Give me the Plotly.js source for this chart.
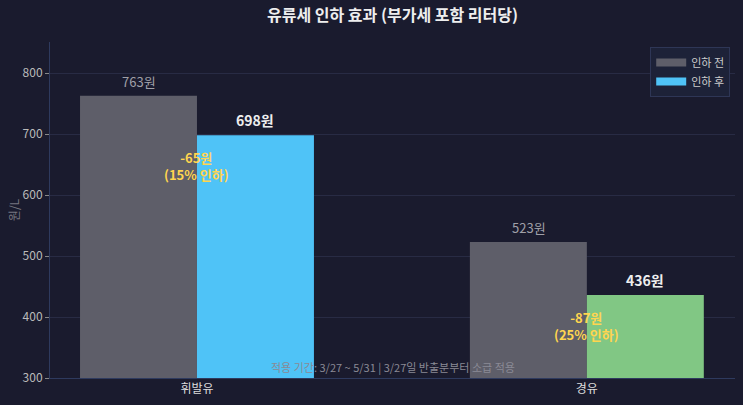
<!DOCTYPE html>
<html><head><meta charset="utf-8">
<script src="https://cdn.plot.ly/plotly-3.0.1.min.js"></script>
<style>html,body{margin:0;padding:0;background:#1a1b2e;}</style>
</head><body><div id="chart" style="width:743px;height:405px;"></div>
<script>
const categories = ['휘발유', '경유'];
const before = [763, 523];
const after = [698, 436];
const seriesNames = ['인하 전', '인하 후'];
const diffLabels = ['-65원<br>(15% 인하)', '-87원<br>(25% 인하)'];
const footnote = '적용 기간: 3/27 ~ 5/31 | 3/27일 반출분부터 소급 적용';

const FONT = '"Noto Sans CJK KR", "Noto Sans", sans-serif';
const traces = [
  {type:'bar', name:seriesNames[0], x:categories, y:before, marker:{color:'#5e5e69'}, hoverinfo:'none', showlegend:false},
  {type:'bar', name:seriesNames[1], x:categories, y:after, marker:{color:['#4fc3f7','#81c784']}, hoverinfo:'none', showlegend:false},
  {type:'scatter', mode:'lines', name:seriesNames[0], x:[null], y:[null], line:{color:'#5e5e69', width:8}},
  {type:'scatter', mode:'lines', name:seriesNames[1], x:[null], y:[null], line:{color:'#4fc3f7', width:8}}
];
const ann = [];
categories.forEach((c,i)=>{
  ann.push({x:c, xshift:-58, y:before[i], yanchor:'bottom', yshift:3, text:before[i]+'원', showarrow:false, font:{family:FONT,size:13,color:'#a0a0a8'}});
  ann.push({x:c, xshift:58, y:after[i], yanchor:'bottom', yshift:3, text:'<b>'+after[i]+'원</b>', showarrow:false, font:{family:FONT,size:14,color:'#eeeeee'}});
  ann.push({x:c, y:after[i]-50, text:'<b>'+diffLabels[i]+'</b>', showarrow:false, font:{family:FONT,size:13,color:'#ffd54f'}});
});
ann.push({xref:'paper', yref:'paper', x:0.5, y:0, yanchor:'bottom', yshift:1, text:footnote, showarrow:false, font:{family:FONT,size:11,color:'#8a8a95'}});

const layout = {
  width:743, height:405,
  paper_bgcolor:'#1a1b2e', plot_bgcolor:'#1a1b2e',
  margin:{l:50, r:8, t:42, b:27},
  font:{family:FONT, color:'#cccccc'},
  title:{text:'<b>유류세 인하 효과 (부가세 포함 리터당)</b>', xref:'paper', x:0.5, xanchor:'center', y:0.963, yanchor:'middle', font:{family:FONT,size:16,color:'#eeeeee'}},
  barmode:'group', bargap:0.4, bargroupgap:0,
  xaxis:{range:[-0.377,1.38], showgrid:false, zeroline:false, showline:true, linecolor:'#2e3a5e', tickfont:{family:FONT,size:12,color:'#dddddd'}, ticks:''},
  yaxis:{range:[300,851], tickvals:[300,400,500,600,700,800], gridcolor:'#282b44', zeroline:false, showline:true, linecolor:'#2e3a5e', ticks:'outside', ticklen:4, tickcolor:'#888888', tickfont:{family:FONT,size:12,color:'#bbbbbb'}, title:{text:'원/L', font:{family:FONT,size:12,color:'#777780'}, standoff:0}},
  legend:{x:0.993, xanchor:'right', y:0.985, yanchor:'top', bgcolor:'#1d2238', bordercolor:'#2e3656', borderwidth:1, font:{family:FONT,size:11,color:'#cccccc'}, tracegroupgap:0, itemwidth:30},
  annotations:ann,
  showlegend:true
};
Plotly.newPlot('chart', traces, layout, {displayModeBar:false, staticPlot:true});
</script></body></html>
